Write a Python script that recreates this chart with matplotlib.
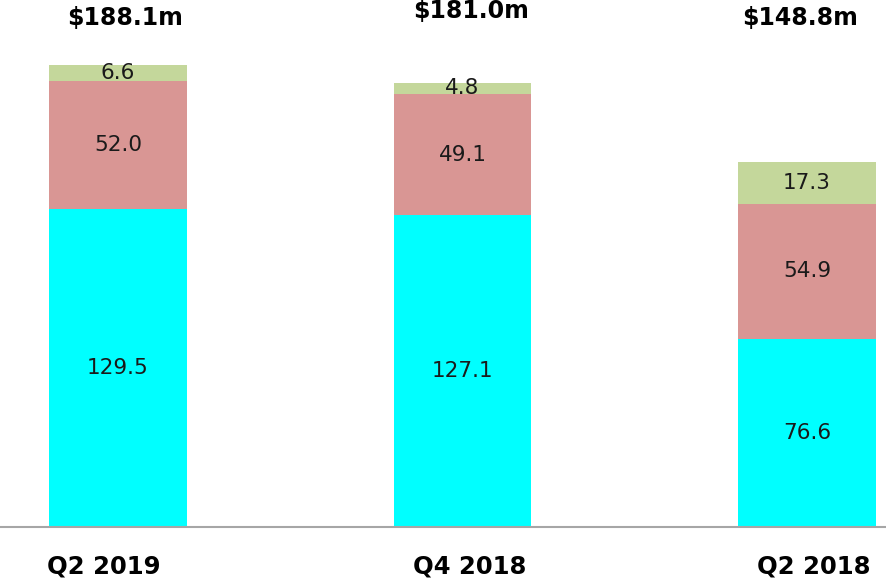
import matplotlib.pyplot as plt
import numpy as np

# data ($m)
quarters = ['Q2 2019', 'Q4 2018', 'Q2 2018']
bottom_vals = [129.5, 127.1, 76.6]
middle_vals = [52.0, 49.1, 54.9]
top_vals = [6.6, 4.8, 17.3]
totals = ['$188.1m', '$181.0m', '$148.8m']

colors = ['#00FFFF', '#D99694', '#C4D79B']

fig = plt.figure(figsize=(8.87, 5.81), dpi=100)
ax = fig.add_axes([0.0, 0.0929, 1.0, 0.9071])

x = np.arange(len(quarters))
width = 0.4
series = [bottom_vals, middle_vals, top_vals]
base = np.zeros(len(quarters))

for vals, col in zip(series, colors):
    vals = np.array(vals)
    ax.bar(x, vals, width, bottom=base, color=col, edgecolor='none')
    for xi, b, v in zip(x, base, vals):
        ax.text(xi, b + v / 2, f'{v:.1f}', ha='center', va='center',
                fontsize=15.5, color='#1a1a1a')
    base = base + vals

# total labels above the bars (placed near the top like the original)
total_y = [0.966, 0.979, 0.966]
total_dx = [0.02, 0.025, -0.02]
for xi, t, ty, dx in zip(x, totals, total_y, total_dx):
    ax.text(xi + dx, ty, t, transform=ax.get_xaxis_transform(),
            ha='center', va='center', fontsize=17, fontweight='bold')

# category labels under the baseline
cat_dx = [-0.04, 0.02, 0.02]
for xi, q, dx in zip(x, quarters, cat_dx):
    ax.text(xi + dx, -0.075, q, transform=ax.get_xaxis_transform(),
            ha='center', va='center', fontsize=17.5, fontweight='bold')

ax.set_xlim(-0.3425, 2.232)
ax.set_ylim(0, 214.6)

for side in ['top', 'right', 'left']:
    ax.spines[side].set_visible(False)
ax.spines['bottom'].set_color('#A6A6A6')
ax.spines['bottom'].set_linewidth(1.5)
ax.set_xticks([])
ax.set_yticks([])

fig.savefig('out.png', dpi=100)
